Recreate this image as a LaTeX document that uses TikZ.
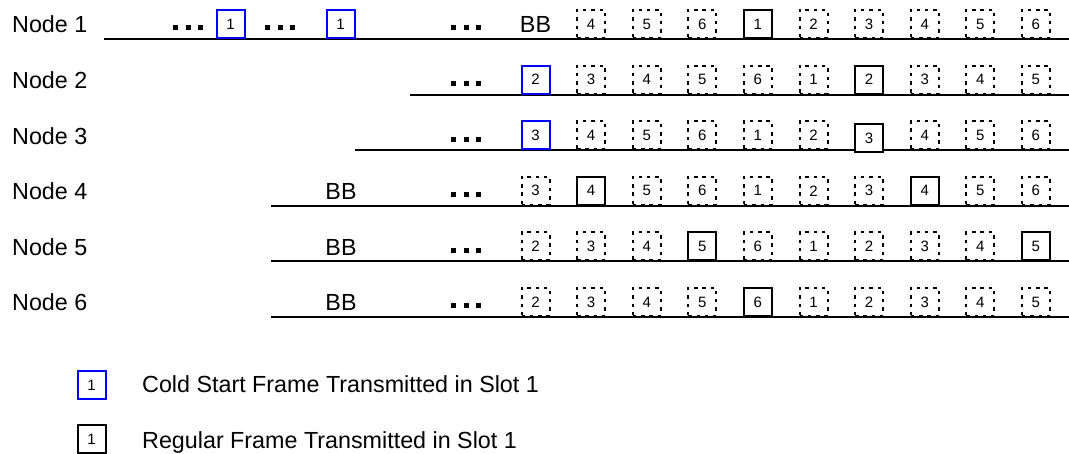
\documentclass[tikz,border=0pt]{standalone}
\usepackage{fontspec}
\setmainfont{Liberation Sans}
\begin{document}
\begin{tikzpicture}[x=1pt,y=-1pt,
  lbl/.style={inner sep=0pt,anchor=base west,font=\fontsize{23.3}{27}\selectfont},
  bb/.style={inner sep=0pt,anchor=base,font=\fontsize{23.3}{27}\selectfont},
  box/.style={minimum width=28pt,minimum height=28pt,inner sep=0pt,anchor=south,
    fill=white,font=\fontsize{15}{15}\selectfont,line width=2pt},
  slot/.style={box,draw,dash pattern=on 3.5pt off 4.8pt},
  tx/.style={box,draw,solid},
  cs/.style={box,draw=blue,solid},
  dots/.style={inner sep=0pt,anchor=center},
  timeline/.style={line width=2pt}]
\useasboundingbox (0,0) rectangle (1069,454);
\newcommand{\tdots}{\rule{5pt}{5pt}\hspace{7.5pt}\rule{5pt}{5pt}\hspace{7.5pt}\rule{5pt}{5pt}}
% timelines
\coordinate (l1s) at (104,39);  \coordinate (l1e) at (1069,39);
\coordinate (l2s) at (410,94.6); \coordinate (l2e) at (1069,94.6);
\coordinate (l3s) at (355,150.2); \coordinate (l3e) at (1069,150.2);
\coordinate (l4s) at (271,205.8); \coordinate (l4e) at (1069,205.8);
\coordinate (l5s) at (271,261.4); \coordinate (l5e) at (1069,261.4);
\coordinate (l6s) at (271,317); \coordinate (l6e) at (1069,317);
\foreach \r in {1,...,6} \draw[timeline] (l\r s) -- (l\r e);
% labels
\foreach \r in {1,...,6}
  \node[lbl] (n\r) at (12,{39+55.6*(\r-1)-6}) {Node \r};
% row 1
\node[dots] (d1a) at (188,28) {\tdots};
\node[cs] (r1a) at (230.5,39) {1};
\node[dots] (d1b) at (280,28) {\tdots};
\node[cs] (r1b) at (340.5,39) {1};
\node[dots] (d1c) at (466,28) {\tdots};
\node[bb] (bb1) at (535.5,33) {BB};
\foreach \c/\n/\s in {2/4/slot,3/5/slot,4/6/slot,5/1/tx,6/2/slot,7/3/slot,8/4/slot,9/5/slot,10/6/slot}
  \node[\s] (r1c\c) at ({535.5+55.6*(\c-1)},39) {\n};
% row 2
\node[dots] (d2) at (466,83.6) {\tdots};
\foreach \c/\n/\s in {1/2/cs,2/3/slot,3/4/slot,4/5/slot,5/6/slot,6/1/slot,7/2/tx,8/3/slot,9/4/slot,10/5/slot}
  \node[\s] (r2c\c) at ({535.5+55.6*(\c-1)},94.6) {\n};
% row 3
\node[dots] (d3) at (466,139.2) {\tdots};
\foreach \c/\n/\s in {1/3/cs,2/4/slot,3/5/slot,4/6/slot,5/1/slot,6/2/slot,8/4/slot,9/5/slot,10/6/slot}
  \node[\s] (r3c\c) at ({535.5+55.6*(\c-1)},150.2) {\n};
\node[tx] (r3c7) at ({535.5+55.6*6},153) {3};
% row 4
\node[bb] (bb4) at (341,199.8) {BB};
\node[dots] (d4) at (466,194.8) {\tdots};
\foreach \c/\n/\s in {1/3/slot,2/4/tx,3/5/slot,4/6/slot,5/1/slot,6/2/slot,7/3/slot,8/4/tx,9/5/slot,10/6/slot}
  \node[\s] (r4c\c) at ({535.5+55.6*(\c-1)},205.8) {\n};
% row 5
\node[bb] (bb5) at (341,255.4) {BB};
\node[dots] (d5) at (466,250.4) {\tdots};
\foreach \c/\n/\s in {1/2/slot,2/3/slot,3/4/slot,4/5/tx,5/6/slot,6/1/slot,7/2/slot,8/3/slot,9/4/slot,10/5/tx}
  \node[\s] (r5c\c) at ({535.5+55.6*(\c-1)},261.4) {\n};
% row 6
\node[bb] (bb6) at (341,311) {BB};
\node[dots] (d6) at (466,306) {\tdots};
\foreach \c/\n/\s in {1/2/slot,2/3/slot,3/4/slot,4/5/slot,5/6/tx,6/1/slot,7/2/slot,8/3/slot,9/4/slot,10/5/slot}
  \node[\s] (r6c\c) at ({535.5+55.6*(\c-1)},317) {\n};
% legend
\node[cs] (leg1) at (91.5,400) {1};
\node[lbl] (legt1) at (142,393) {Cold Start Frame Transmitted in Slot 1};
\node[tx] (leg2) at (91.5,454) {1};
\node[lbl] (legt2) at (142,448) {Regular Frame Transmitted in Slot 1};
\end{tikzpicture}
\end{document}
